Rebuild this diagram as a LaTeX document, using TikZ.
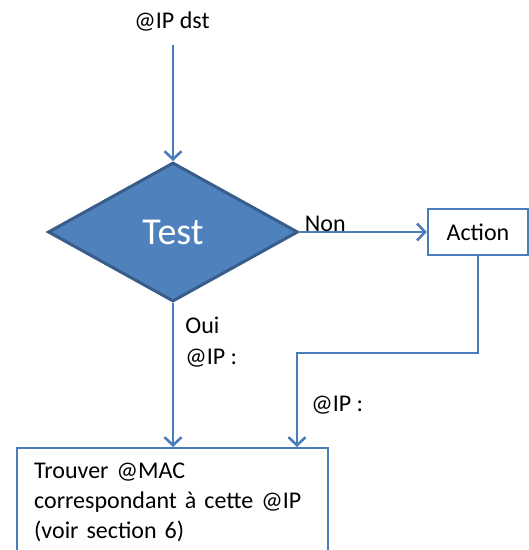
\documentclass[tikz,border=0pt]{standalone}
\usepackage{fontspec}
\setmainfont{Carlito}
\usetikzlibrary{shapes.geometric,arrows.meta}

\definecolor{linkblue}{HTML}{4A7EBB}
\definecolor{testfill}{HTML}{4F81BD}
\definecolor{testline}{HTML}{385D8A}

\tikzset{
	link/.style={draw=linkblue,line width=2.8pt,-{Straight Barb[length=8pt,width=17pt,line width=2.6pt]}},
	box/.style={draw=linkblue,line width=2.4pt,fill=white,font=\fontsize{24}{30}\selectfont},
	lbl/.style={font=\fontsize{24}{31}\selectfont,inner sep=1pt,align=left},
	decision/.style={diamond,draw=testline,line width=3pt,fill=testfill,text=white,
		minimum width=250pt,minimum height=139pt,aspect=1.8,inner sep=0pt,font=\fontsize{38}{40}\selectfont}
}

\begin{document}
\begin{tikzpicture}[x=1pt,y=-1pt]
		\useasboundingbox (0,0) rectangle (529,550);
		\node[lbl] (dst) at (172,22) {@IP dst};
		\coordinate (start) at (173,45);
		\node[decision] (test) at (173,232) {Test};
		\node[box,minimum width=100pt,minimum height=46pt] (action) at (478,232) {Action};
		\node[box,anchor=north west,text width=277pt,align=left,inner xsep=17pt,inner ysep=15pt] (mac) at (16,447)
			{Trouver @MAC\\correspondant à cette @IP\\(voir section 6)};
		\coordinate (bend) at (297,353);
		\draw[link] (start) -- (test.north);
		\draw[link] (test.east) -- node[lbl,pos=0,anchor=south west,xshift=3pt,yshift=-2pt] {Non} (action.west);
		\draw[link] (test.south) -- node[lbl,pos=0.08,anchor=north west,xshift=10pt] {Oui\\@IP :} (test.south |- mac.north);
		\draw[link] (action.south) |- (bend) -- node[lbl,pos=0.56,anchor=west,xshift=12pt] {@IP :} (bend |- mac.north);
	\end{tikzpicture}
\end{document}
